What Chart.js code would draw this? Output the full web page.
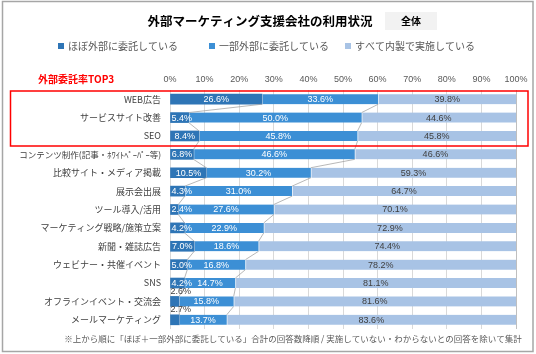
<!DOCTYPE html>
<html><head><meta charset="utf-8">
<script src="https://cdn.jsdelivr.net/npm/chart.js@4/dist/chart.umd.min.js"></script>
<style>html,body{margin:0;padding:0;background:#fff}canvas{display:block}</style>
</head><body>
<canvas id="c" width="536" height="354"></canvas>
<script>
const categories = ["WEB広告","サービスサイト改善","SEO","コンテンツ制作(記事・ﾎﾜｲﾄﾍﾟｰﾊﾟｰ等)","比較サイト・メディア掲載","展示会出展","ツール導入/活用","マーケティング戦略/施策立案","新聞・雑誌広告","ウェビナー・共催イベント","SNS","オフラインイベント・交流会","メールマーケティング"];
const mostlyOutsourced = [26.6,5.4,8.4,6.8,10.5,4.3,2.4,4.2,7.0,5.0,4.2,2.6,2.7];
const partlyOutsourced = [33.6,50.0,45.8,46.6,30.2,31.0,27.6,22.9,18.6,16.8,14.7,15.8,13.7];
const allInHouse = [39.8,44.6,45.8,46.6,59.3,64.7,70.1,72.9,74.4,78.2,81.1,81.6,83.6];
const seriesNames = ["ほぼ外部に委託している","一部外部に委託している","すべて内製で実施している"];
const titleText = "外部マーケティング支援会社の利用状況";
const badgeText = "全体";
const top3Text = "外部委託率TOP3";
const footnote = "※上から順に「ほぼ＋一部外部に委託している」合計の回答数降順 / 実施していない・わからないとの回答を除いて集計";
const colors = ["#2E75B6","#3C8FD5","#A8C3E5"];
const JP = '"Noto Sans CJK JP", sans-serif';
const NUM = '"Liberation Sans", Arial, sans-serif';

const decor = {
  id:'decor',
  beforeDraw(chart){
    const c = chart.ctx;
    c.save();
    c.fillStyle='#fff'; c.fillRect(0,0,chart.width,chart.height);
    c.restore();
  },
  afterDraw(chart){
    const c = chart.ctx;
    c.save();
    c.strokeStyle='#a6a6a6'; c.lineWidth=1.5;
    c.strokeRect(2.5,1.5,530.5,350);
    c.fillStyle='#000'; c.font='bold 12.5px '+JP; c.textAlign='center'; c.textBaseline='middle';
    c.fillText(titleText,260,21);
    c.fillStyle='#f2f2f2'; c.fillRect(385,12,52,18);
    c.fillStyle='#000'; c.font='bold 10px '+JP;
    c.fillText(badgeText,411,21.5);
    const lx=[58,209,345];
    c.font='10px '+JP; c.textAlign='left';
    seriesNames.forEach((n,i)=>{
      c.fillStyle=colors[i]; c.fillRect(lx[i],43,6,6);
      c.fillStyle='#595959'; c.fillText(n,lx[i]+10,46.5);
    });
    c.fillStyle='#ff0000'; c.font='bold 10px '+JP;
    c.fillText(top3Text,38,79);
    c.strokeStyle='#ff0000'; c.lineWidth=1.5;
    c.strokeRect(10.5,91,517.5,55);
    c.fillStyle='#595959'; c.font='8.5px '+JP; c.textAlign='center';
    c.fillText(footnote,293,339);
    c.restore();
  }
};

const seriesLines = {
  id:'seriesLines',
  afterDatasetsDraw(chart){
    const c=chart.ctx, xs=chart.scales.x;
    const m0=chart.getDatasetMeta(0);
    c.save(); c.strokeStyle='#a0a0a0'; c.lineWidth=0.75;
    for(let k=0;k<categories.length-1;k++){
      const e1=m0.data[k], e2=m0.data[k+1];
      const yb=e1.y+e1.height/2, yt=e2.y-e2.height/2;
      const cums=[[mostlyOutsourced[k],mostlyOutsourced[k+1]],[mostlyOutsourced[k]+partlyOutsourced[k],mostlyOutsourced[k+1]+partlyOutsourced[k+1]]];
      cums.forEach(([a,b])=>{
        c.beginPath(); c.moveTo(xs.getPixelForValue(a),yb); c.lineTo(xs.getPixelForValue(b),yt); c.stroke();
      });
    }
    c.restore();
  }
};

const labels = {
  id:'labels',
  afterDatasetsDraw(chart){
    const c=chart.ctx;
    c.save(); c.font='9px '+NUM; c.textBaseline='middle'; c.textAlign='center';
    chart.data.datasets.forEach((ds,i)=>{
      const meta=chart.getDatasetMeta(i);
      meta.data.forEach((el,j)=>{
        const v=ds.data[j]; const t=v.toFixed(1)+'%';
        const tw=c.measureText(t).width;
        const left=Math.min(el.base,el.x), right=Math.max(el.base,el.x);
        if(i===0 && v<2.8 && j>=11){
          c.fillStyle='#404040';
          c.fillText(t,left+tw/2,el.y-el.height/2-5);
          return;
        }
        let cx=(left+right)/2;
        if(i===0) cx=Math.max(cx,left+tw/2+1);
        c.fillStyle = i<2 ? '#ffffff' : '#404040';
        c.fillText(t,cx,el.y+0.5);
      });
    });
    c.restore();
  }
};

new Chart(document.getElementById('c'),{
  type:'bar',
  data:{
    labels:categories,
    datasets:[
      {label:seriesNames[0],data:mostlyOutsourced,backgroundColor:colors[0]},
      {label:seriesNames[1],data:partlyOutsourced,backgroundColor:colors[1],borderColor:'#ffffff',borderWidth:{left:1,right:0,top:0,bottom:0},borderSkipped:false},
      {label:seriesNames[2],data:allInHouse,backgroundColor:colors[2],borderColor:'#ffffff',borderWidth:{left:1,right:0,top:0,bottom:0},borderSkipped:false}
    ]
  },
  options:{
    indexAxis:'y', responsive:false, animation:false, devicePixelRatio:1,
    layout:{padding:{left:0,right:20,top:70,bottom:25}},
    datasets:{bar:{barThickness:10}},
    plugins:{legend:{display:false},title:{display:false},tooltip:{enabled:false}},
    scales:{
      x:{position:'top',stacked:true,min:0,max:100,
        ticks:{stepSize:10,callback:v=>v+'%',font:{size:9,family:NUM},color:'#595959',padding:5,maxRotation:0},
        grid:{drawTicks:false,color:ctx=>ctx.tick && ctx.tick.value===100?'#bfbfbf':'#d9d9d9'},
        border:{display:false},
        afterFit:s=>{s.height=20;}
      },
      y:{stacked:true,
        ticks:{font:ctx=>({size:(ctx.index===3?8.5:9),family:JP}),color:'#404040',padding:9,autoSkip:false},
        grid:{display:false,drawTicks:false},border:{display:false},
        afterFit:s=>{s.width=170;}
      }
    }
  },
  plugins:[decor,seriesLines,labels]
});
</script>
</body></html>
